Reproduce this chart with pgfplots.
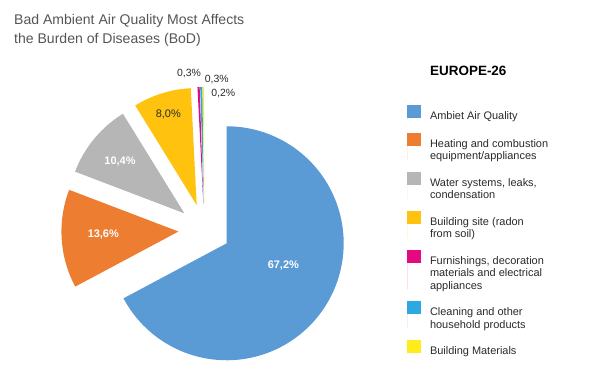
\documentclass[border=0pt]{standalone}
\usepackage{pgfplots}
\pgfplotsset{compat=1.18}
\usepackage{pgfplotstable}
\usepackage{fontspec}
\setmainfont{Liberation Sans}

\definecolor{cBlue}{HTML}{5B9BD5}
\definecolor{cOrange}{HTML}{ED7D31}
\definecolor{cGray}{HTML}{B6B6B6}
\definecolor{cGold}{HTML}{FFC20E}
\definecolor{cMag}{HTML}{E5097F}
\definecolor{cCyan}{HTML}{2EA8E0}
\definecolor{cYel}{HTML}{FFEC1A}
\definecolor{titlegray}{HTML}{555555}
\definecolor{txt}{HTML}{2A2A2A}

\pgfplotsset{
  lgone/.style={legend image code/.code={\fill[##1] (0bp,-2bp) rectangle (14bp,11bp); \path (0bp,-3.7bp) -- (0bp,0bp);}},
  lgtwo/.style={legend image code/.code={\fill[##1] (0bp,-2bp) rectangle (14bp,11bp); \path (0bp,-16bp) -- (0bp,0bp);}},
  lgthree/.style={legend image code/.code={\fill[##1] (0bp,-2bp) rectangle (14bp,11bp); \path (0bp,-28.3bp) -- (0bp,0bp);}},
}

\pgfplotstableread{
share
67.2
13.6
10.4
8.0
0.3
0.3
0.2
}\piedata

\def\cx{204.4}\def\cy{156.1}\def\R{117}\def\ex{26}
\xdef\cur{90}
\newcommand\slice[3]{%
  \pgfplotstablegetelem{#1}{share}\of\piedata
  \pgfmathsetmacro\aE{\cur}%
  \pgfmathsetmacro\aS{\cur-3.6*\pgfplotsretval}%
  \pgfmathsetmacro\aM{(\aS+\aE)/2}%
  \pgfmathsetmacro\ox{\cx+\ex*cos(\aM)}%
  \pgfmathsetmacro\oy{\cy+\ex*sin(\aM)}%
  \xdef\cur{\aS}%
  \edef\doit{\noexpand\addplot[fill=#2, draw=none, #3, domain=\aS:\aE, samples=90] ({\ox+\R*cos(x)},{\oy+\R*sin(x)}) -- (axis cs:\ox,\oy) -- cycle;}%
  \doit
}
\newcommand\legtext[1]{\begin{tabular}[t]{@{}l@{}}#1\end{tabular}}

\begin{document}
\begin{tikzpicture}
\begin{axis}[
  width=600bp, height=386bp, scale only axis,
  xmin=0, xmax=600, ymin=0, ymax=386,
  hide axis, clip=false,
  legend cell align=left,
  legend style={at={(axis cs:407.3,281)}, anchor=north west, draw=none, fill=none,
    inner sep=0pt, outer sep=0pt, row sep=12bp, column sep=8.7bp,
    nodes={inner sep=0pt, text=txt, font=\fontsize{11}{12.3}\selectfont}},
]
\slice{0}{cBlue}{lgone}
\addlegendentry{\legtext{Ambiet Air Quality}}
\slice{1}{cOrange}{lgtwo}
\addlegendentry{\legtext{Heating and combustion\\equipment/appliances}}
\slice{2}{cGray}{lgtwo}
\addlegendentry{\legtext{Water systems, leaks,\\condensation}}
\slice{3}{cGold}{lgtwo}
\addlegendentry{\legtext{Building site (radon\\from soil)}}
\slice{4}{cMag}{lgthree}
\addlegendentry{\legtext{Furnishings, decoration\\materials and electrical\\appliances}}
\slice{5}{cCyan}{lgtwo}
\addlegendentry{\legtext{Cleaning and other\\household products}}
\slice{6}{cYel}{lgone}
\addlegendentry{\legtext{Building Materials}}

\node[anchor=base west, inner sep=0pt, font=\fontsize{14.1}{16}\selectfont, text=titlegray] at (axis cs:14,361) {Bad Ambient Air Quality Most Affects};
\node[anchor=base west, inner sep=0pt, font=\fontsize{14.1}{16}\selectfont, text=titlegray] at (axis cs:14,342.5) {the Burden of Diseases (BoD)};
\node[anchor=base west, inner sep=0pt, font=\bfseries\fontsize{13.5}{15}\selectfont, text=black] at (axis cs:430,310.3) {EUROPE-26};

\node[font=\bfseries\fontsize{11}{12}\selectfont, text=white] at (axis cs:283.3,120.3) {67,2\%};
\node[font=\bfseries\fontsize{11}{12}\selectfont, text=white] at (axis cs:103.3,151) {13,6\%};
\node[font=\bfseries\fontsize{11}{12}\selectfont, text=white] at (axis cs:120,224.3) {10,4\%};
\node[font=\fontsize{11}{12}\selectfont, text=txt] at (axis cs:168.3,271.5) {8,0\%};
\node[font=\fontsize{10.5}{12}\selectfont, text=txt] at (axis cs:189,312.7) {0,3\%};
\node[font=\fontsize{10.5}{12}\selectfont, text=txt] at (axis cs:216.7,306.7) {0,3\%};
\node[font=\fontsize{10.5}{12}\selectfont, text=txt] at (axis cs:223.3,292.7) {0,2\%};
\end{axis}
\path (current axis.south west) rectangle (current axis.north east);
\end{tikzpicture}
\end{document}
